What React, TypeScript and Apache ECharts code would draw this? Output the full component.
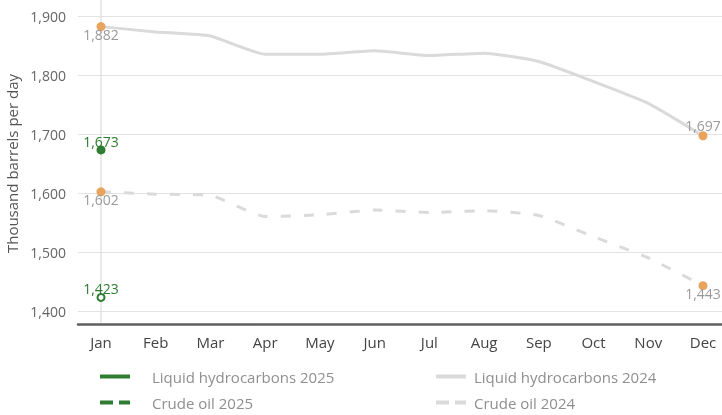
import React, { useEffect, useRef } from "react";
import * as echarts from "echarts";

const months = ["Jan", "Feb", "Mar", "Apr", "May", "Jun", "Jul", "Aug", "Sep", "Oct", "Nov", "Dec"];
const liquid2025: (number | null)[] = [1673, null, null, null, null, null, null, null, null, null, null, null];
const crude2025: (number | null)[] = [1423, null, null, null, null, null, null, null, null, null, null, null];
const liquid2024 = [1882, 1873, 1866, 1835, 1835, 1841, 1833, 1837, 1823, 1789, 1752, 1697];
const crude2024 = [1602, 1598, 1596, 1560, 1563, 1571, 1567, 1570, 1562, 1526, 1490, 1443];
const yTicks = { min: 1400, max: 1900, interval: 100 };
const seriesNames = ["Liquid hydrocarbons 2025", "Crude oil 2025", "Liquid hydrocarbons 2024", "Crude oil 2024"];

const FONT = "'Open Sans', sans-serif";
const GREEN = "#2e7d32";
const GRAY = "#dadada";
const ORANGE = "#e8a35c";
const LABEL_GRAY = "#9a9a9a";
const SOLID_ICON = "path://M0,0h30v4h-30z";
const DASH_ICON = "path://M0,0h13v4h-13zM19,0h11v4h-11z";

const fmt = (v: number) => v.toLocaleString("en-US");

export default function App() {
  const ref = useRef<HTMLDivElement>(null);
  useEffect(() => {
    if (!ref.current) return;
    const chart = echarts.init(ref.current, undefined, { renderer: "svg" });

    const endpoints = (vals: number[], firstPos: string, lastPos: string, firstDist: number, lastDist: number) =>
      vals.map((v, i) =>
        i === 0 || i === vals.length - 1
          ? {
              value: v,
              symbol: "circle",
              symbolSize: 9,
              itemStyle: { color: ORANGE },
              label: {
                show: true,
                position: i === 0 ? firstPos : lastPos,
                distance: i === 0 ? firstDist : lastDist,
                color: LABEL_GRAY,
                fontSize: 14,
                fontFamily: FONT,
                formatter: (p: any) => fmt(p.value),
              },
            }
          : { value: v, symbol: "none" }
      );

    const gridTop = 16;
    const gridBottom = 104;

    const legendItem = (name: string, icon: string, color: string, left: number, top: number, pad: number) => ({
      left,
      top,
      padding: 0,
      itemWidth: 30,
      itemHeight: 4,
      textStyle: { color: "#8f8f8f", fontSize: 15, fontFamily: FONT, padding: [0, 0, 0, pad] },
      data: [{ name, icon, itemStyle: { color } }],
    });

    chart.setOption({
      animation: false,
      grid: [
        { left: 78, right: 0, top: gridTop, bottom: gridBottom, outerBoundsMode: "none", containLabel: false },
        { left: 101, right: 19, top: gridTop, bottom: gridBottom, outerBoundsMode: "none", containLabel: false },
      ],
      xAxis: [
        {
          gridIndex: 0,
          type: "value",
          min: 0,
          max: 1,
          offset: 13,
          axisLine: { show: true, lineStyle: { color: "#5f5f5f", width: 2.5 } },
          axisTick: { show: false },
          axisLabel: { show: false },
          splitLine: { show: false },
        },
        {
          gridIndex: 1,
          type: "category",
          data: months,
          boundaryGap: false,
          axisLine: { show: false },
          axisTick: { show: false },
          splitLine: { show: false },
          axisLabel: { color: "#444", fontSize: 15, fontFamily: FONT, margin: 23 },
        },
      ],
      yAxis: [
        {
          gridIndex: 0,
          type: "value",
          min: yTicks.min,
          max: yTicks.max,
          interval: yTicks.interval,
          name: "Thousand barrels per day",
          nameLocation: "middle",
          nameGap: 57,
          nameTextStyle: { color: "#555", fontSize: 15, fontFamily: FONT },
          axisLine: { show: false },
          axisTick: { show: false },
          axisLabel: {
            color: "#666",
            fontSize: 14,
            fontFamily: FONT,
            margin: 12,
            formatter: (v: number) => fmt(v),
          },
          splitLine: { show: true, lineStyle: { color: "#e2e2e2", width: 1.2 } },
        },
        {
          gridIndex: 1,
          type: "value",
          min: yTicks.min,
          max: yTicks.max,
          interval: yTicks.interval,
          show: false,
          splitLine: { show: false },
        },
      ],
      legend: [
        legendItem(seriesNames[0], SOLID_ICON, GREEN, 100, 369, 17),
        legendItem(seriesNames[1], DASH_ICON, GREEN, 100, 395, 17),
        legendItem(seriesNames[2], SOLID_ICON, GRAY, 436, 369, 3),
        legendItem(seriesNames[3], DASH_ICON, GRAY, 436, 395, 3),
      ],
      series: [
        {
          name: seriesNames[2],
          type: "line",
          xAxisIndex: 1,
          yAxisIndex: 1,
          smooth: 0.15,
          data: endpoints(liquid2024, "bottom", "top", -4, -1),
          lineStyle: { color: GRAY, width: 3 },
          itemStyle: { color: GRAY },
          z: 2,
        },
        {
          name: seriesNames[3],
          type: "line",
          xAxisIndex: 1,
          yAxisIndex: 1,
          smooth: 0.15,
          data: endpoints(crude2024, "bottom", "bottom", -4, -4),
          lineStyle: { color: GRAY, width: 3, type: [10, 13] },
          itemStyle: { color: GRAY },
          z: 2,
        },
        {
          name: seriesNames[0],
          type: "line",
          xAxisIndex: 1,
          yAxisIndex: 1,
          data: liquid2025,
          symbol: "circle",
          symbolSize: 9,
          showSymbol: true,
          lineStyle: { color: GREEN, width: 3 },
          itemStyle: { color: GREEN },
          label: {
            show: true,
            position: "top",
            distance: -3,
            color: GREEN,
            fontSize: 14,
            fontFamily: FONT,
            formatter: (p: any) => (p.value == null ? "" : fmt(p.value)),
          },
          z: 3,
        },
        {
          name: seriesNames[1],
          type: "line",
          xAxisIndex: 1,
          yAxisIndex: 1,
          data: crude2025,
          symbol: "emptyCircle",
          symbolSize: 7,
          showSymbol: true,
          lineStyle: { color: GREEN, width: 3, type: [10, 6] },
          itemStyle: { color: GREEN, borderWidth: 2 },
          label: {
            show: true,
            position: "top",
            distance: -3,
            color: GREEN,
            fontSize: 14,
            fontFamily: FONT,
            formatter: (p: any) => (p.value == null ? "" : fmt(p.value)),
          },
          z: 3,
        },
      ],
    });

    const jan = chart.convertToPixel({ xAxisIndex: 1 }, months[0]) as number;
    const bottomY = chart.getHeight() - gridBottom + 13;
    chart.setOption({
      graphic: [
        {
          type: "line",
          z: -1,
          silent: true,
          shape: { x1: jan, y1: 0, x2: jan, y2: bottomY },
          style: { stroke: "#dcdcdc", lineWidth: 1.2 },
        },
      ],
    });

    return () => chart.dispose();
  }, []);
  return <div ref={ref} style={{ position: "fixed", left: 0, top: 0, width: 722, height: 415 }} />;
}
